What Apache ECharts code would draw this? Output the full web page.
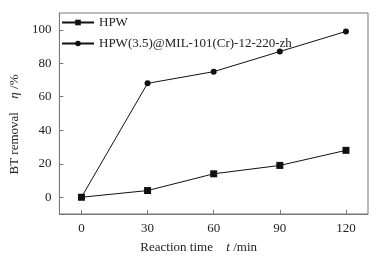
<!DOCTYPE html>
<html>
<head>
<meta charset="utf-8">
<script src="https://cdn.jsdelivr.net/npm/echarts@6/dist/echarts.min.js"></script>
<style>
  html, body { margin: 0; padding: 0; background: #fff; }
  #chart { width: 377px; height: 259px; }
</style>
</head>
<body>
<div id="chart"></div>
<script>
const times = [0, 30, 60, 90, 120];
const hpwRemoval = [0, 4, 14, 19, 28];
const milRemoval = [0, 68, 75, 87, 99];
const seriesNames = ["HPW", "HPW(3.5)@MIL-101(Cr)-12-220-zh"];
const yTicks = [0, 20, 40, 60, 80, 100];

const font = "Liberation Serif";
const axisColor = "#777";
const textColor = "#222";

const chart = echarts.init(document.getElementById("chart"));

const richName = {
  n: { color: textColor, fontFamily: font, fontSize: 13 },
  i: { color: textColor, fontFamily: font, fontSize: 13, fontStyle: "italic" },
};

const option = {
  animation: false,
  grid: {
    left: 52, top: 13, right: 9, bottom: 39,
    show: true, borderColor: axisColor, borderWidth: 1,
  },
  legend: {
    left: 56,
    top: 11,
    orient: "vertical",
    itemGap: 8,
    itemWidth: 32,
    itemHeight: 7,
    textStyle: { color: textColor, fontFamily: font, fontSize: 13 },
    data: seriesNames,
  },
  xAxis: {
    type: "value",
    min: -10,
    max: 130,
    axisLine: { show: true, onZero: false, lineStyle: { color: axisColor, width: 1 } },
    axisTick: {
      show: true, inside: true, length: 4, customValues: times,
      lineStyle: { color: axisColor },
    },
    axisLabel: {
      color: textColor, fontFamily: font, fontSize: 13, margin: 8,
      customValues: times,
    },
    splitLine: { show: false },
    name: "{n|Reaction time}    {i|t} {n|/min}",
    nameLocation: "middle",
    nameGap: 27,
    nameTextStyle: { rich: richName, padding: [0, 30, 0, 0] },
  },
  yAxis: {
    type: "value",
    min: -10,
    max: 110,
    axisLine: { show: true, onZero: false, lineStyle: { color: axisColor, width: 1 } },
    axisTick: {
      show: true, inside: true, length: 4, customValues: yTicks,
      lineStyle: { color: axisColor },
    },
    axisLabel: {
      color: textColor, fontFamily: font, fontSize: 13, margin: 8,
      customValues: yTicks,
    },
    splitLine: { show: false },
    name: "{n|BT removal}    {i|η} {n|/%}",
    nameLocation: "middle",
    nameGap: 32,
    nameTextStyle: { rich: richName, padding: [0, 22, 0, 0] },
  },
  series: [
    {
      name: seriesNames[0],
      type: "line",
      data: times.map((t, i) => [t, hpwRemoval[i]]),
      symbol: "rect",
      symbolSize: 7,
      lineStyle: { color: "#111", width: 1 },
      itemStyle: { color: "#111" },
    },
    {
      name: seriesNames[1],
      type: "line",
      data: times.map((t, i) => [t, milRemoval[i]]),
      symbol: "circle",
      symbolSize: 6,
      lineStyle: { color: "#111", width: 1 },
      itemStyle: { color: "#111" },
    },
  ],
};

chart.setOption(option);
</script>
</body>
</html>
